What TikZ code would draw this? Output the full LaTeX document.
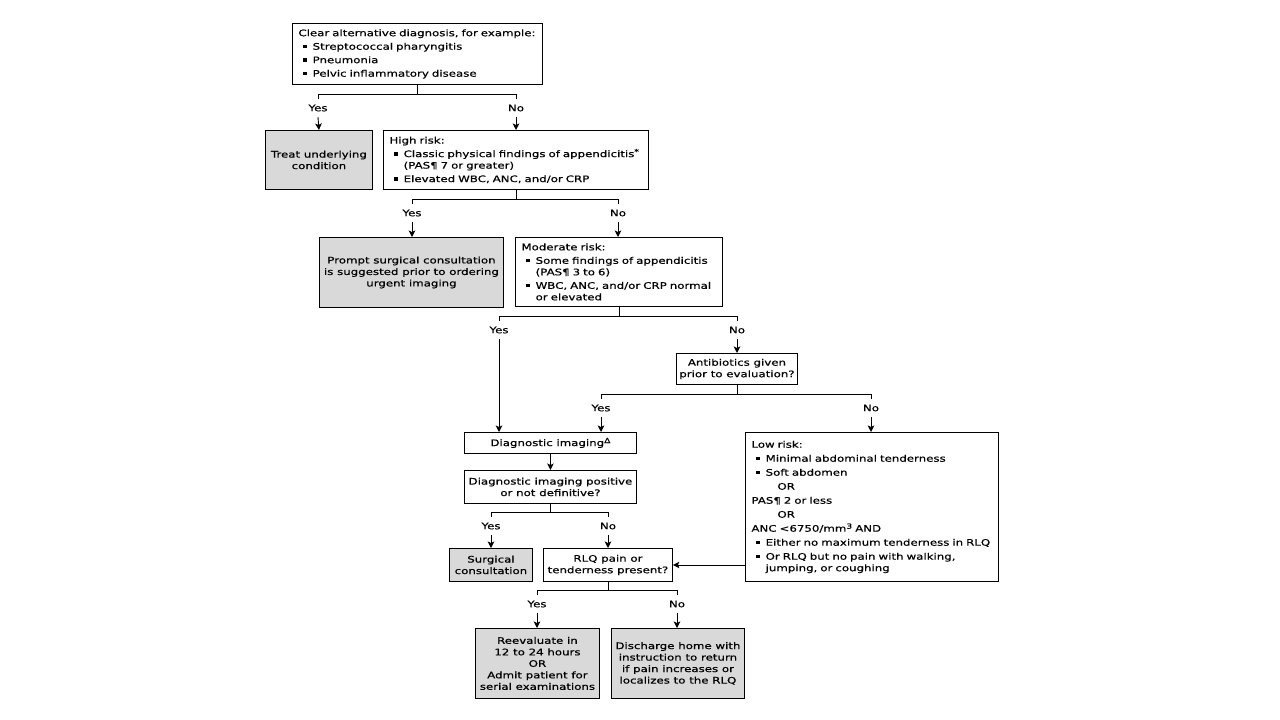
\documentclass[tikz,border=0pt]{standalone}
\usepackage{fontspec}
\setmainfont{DejaVu Sans}[FakeStretch=1.31, FakeBold=0.6]
\usetikzlibrary{arrows.meta}
\definecolor{boxgray}{RGB}{217,217,217}
\newcommand\bl{\hspace*{5pt}\rule[1.5pt]{3.2pt}{3.2pt}\hspace*{6pt}}
\newcommand\wrapind{\hspace*{14.2pt}}
\newcommand\orind{\hspace*{26pt}}
\newcommand\sups[1]{\raisebox{3pt}{\fontsize{7}{7}\selectfont #1}}
\begin{document}
\begin{tikzpicture}[x=1pt,y=-1pt,
  font=\fontsize{9}{11.5}\selectfont,
  box/.style={draw, line width=0.9pt, anchor=north west, inner xsep=6pt, inner ysep=0pt},
  cbox/.style={draw, line width=0.9pt, anchor=north west, inner xsep=1pt, inner ysep=0pt, align=center},
  gbox/.style={cbox, fill=boxgray},
  lbl/.style={inner sep=0pt, minimum height=18pt},
  ln/.style={line width=0.9pt},
  arr/.style={line width=0.9pt, -{Stealth[length=6.5pt,width=6.5pt,inset=1.5pt]}}]
\useasboundingbox (0,0) rectangle (1280,720);

% boxes
\node[box, text width=238pt, minimum height=61pt, align=left] (b1) at (292,23)
  {Clear alternative diagnosis, for example:\\[2pt]
   \bl Streptococcal pharyngitis\\[2pt]
   \bl Pneumonia\\[2pt]
   \bl Pelvic inflammatory disease};
\node[gbox, minimum width=107pt, minimum height=59pt] (tr) at (265,130)
  {Treat underlying\\condition};
\node[box, text width=253pt, minimum height=59pt, align=left] (hr) at (383,130)
  {High risk:\\[2pt]
   \bl Classic physical findings of appendicitis\sups{*}\\
   \wrapind (PAS¶ 7 or greater)\\[2pt]
   \bl Elevated WBC, ANC, and/or CRP};
\node[gbox, minimum width=184pt, minimum height=70pt] (ps) at (319,237)
  {Prompt surgical consultation\\is suggested prior to ordering\\urgent imaging};
\node[box, text width=195pt, minimum height=69pt, align=left] (mr) at (515,237)
  {Moderate risk:\\[2pt]
   \bl Some findings of appendicitis\\
   \wrapind (PAS¶ 3 to 6)\\[2pt]
   \bl WBC, ANC, and/or CRP normal\\
   \wrapind or elevated};
\node[cbox, minimum width=121pt, minimum height=31pt] (ab) at (676,353)
  {Antibiotics given\\prior to evaluation?};
\node[cbox, minimum width=172pt, minimum height=21pt] (di) at (464,432)
  {Diagnostic imaging\sups{Δ}};
\node[cbox, minimum width=172pt, minimum height=33pt] (dp) at (464,470)
  {Diagnostic imaging positive\\or not definitive?};
\node[gbox, minimum width=83pt, minimum height=33pt] (sc) at (449,548)
  {Surgical\\consultation};
\node[cbox, minimum width=129pt, minimum height=33pt] (rlq) at (543,548)
  {RLQ pain or\\tenderness present?};
\node[box, text width=241pt, minimum height=149pt, align=left] (lr) at (745,432)
  {Low risk:\\[2.5pt]
   \bl Minimal abdominal tenderness\\[2.5pt]
   \bl Soft abdomen\\[2.5pt]
   \orind OR\\[2.5pt]
   PAS¶ 2 or less\\[2.5pt]
   \orind OR\\[2.5pt]
   ANC <6750/mm\sups{3} AND\\[2.5pt]
   \bl Either no maximum tenderness in RLQ\\[2.5pt]
   \bl Or RLQ but no pain with walking,\\
   \wrapind jumping, or coughing};
\node[gbox, minimum width=124pt, minimum height=70pt] (re) at (475,628)
  {Reevaluate in\\12 to 24 hours\\OR\\Admit patient for\\serial examinations};
\node[gbox, minimum width=133pt, minimum height=70pt] (dh) at (611,628)
  {Discharge home with\\instruction to return\\if pain increases or\\localizes to the RLQ};

% labels
\node[lbl] (y1) at (318,108) {Yes};
\node[lbl] (n1) at (516,108) {No};
\node[lbl] (y2) at (412,213) {Yes};
\node[lbl] (n2) at (618,213) {No};
\node[lbl] (y3) at (499,330) {Yes};
\node[lbl] (n3) at (737,330) {No};
\node[lbl] (y4) at (601,408) {Yes};
\node[lbl] (n4) at (871,408) {No};
\node[lbl] (y5) at (491,526) {Yes};
\node[lbl] (n5) at (608,526) {No};
\node[lbl] (y6) at (537,604) {Yes};
\node[lbl] (n6) at (677,604) {No};

% branch 1
\draw[ln] (y1.north) -- ++(0,-4) coordinate (h1) -| (n1.north);
\draw[ln] (b1.south) -- (b1.south |- h1);
\draw[arr] (y1.south) -- (tr.north);
\draw[arr] (n1.south) -- (n1.south |- hr.north);
% branch 2
\draw[ln] (y2.north) -- ++(0,-4) coordinate (h2) -| (n2.north);
\draw[ln] (hr.south) -- (hr.south |- h2);
\draw[arr] (y2.south) -- (y2.south |- ps.north);
\draw[arr] (n2.south) -- (n2.south |- mr.north);
% branch 3
\draw[ln] (y3.north) -- ++(0,-4) coordinate (h3) -| (n3.north);
\draw[ln] (mr.south) -- (mr.south |- h3);
\draw[arr] (y3.south) -- (y3.south |- di.north);
\draw[arr] (n3.south) -- (n3.south |- ab.north);
% branch 4
\draw[ln] (y4.north) -- ++(0,-4) coordinate (h4) -| (n4.north);
\draw[ln] (ab.south) -- (ab.south |- h4);
\draw[arr] (y4.south) -- (y4.south |- di.north);
\draw[arr] (n4.south) -- (n4.south |- lr.north);
% imaging
\draw[arr] (di.south) -- (dp.north);
% branch 5
\draw[ln] (y5.north) -- ++(0,-4) coordinate (h5) -| (n5.north);
\draw[ln] (dp.south) -- (dp.south |- h5);
\draw[arr] (y5.south) -- (y5.south |- sc.north);
\draw[arr] (n5.south) -- (n5.south |- rlq.north);
% low risk to RLQ
\draw[arr] (lr.west |- rlq.east) -- (rlq.east);
% branch 6
\draw[ln] (y6.north) -- ++(0,-4) coordinate (h6) -| (n6.north);
\draw[ln] (rlq.south) -- (rlq.south |- h6);
\draw[arr] (y6.south) -- (y6.south |- re.north);
\draw[arr] (n6.south) -- (n6.south |- dh.north);
\end{tikzpicture}
\end{document}
